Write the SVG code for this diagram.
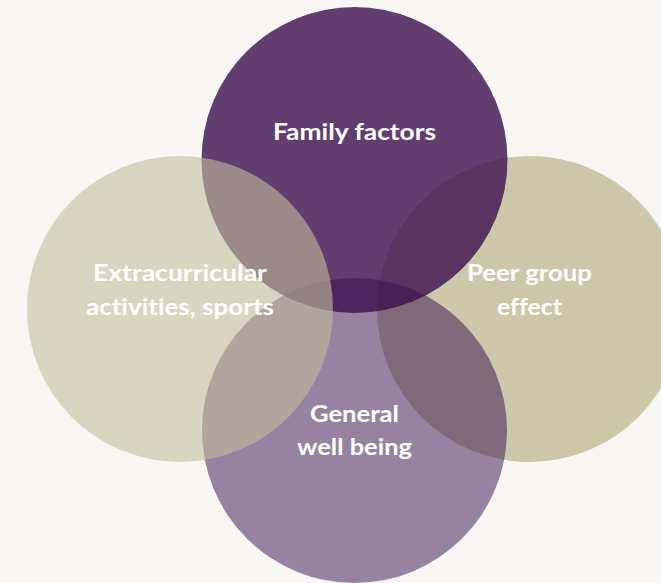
<svg xmlns="http://www.w3.org/2000/svg" width="661" height="583" viewBox="0 0 661 583">
<style>
.lbl{font-family:Lato,"Open Sans","Liberation Sans",sans-serif;font-weight:700;font-size:22.5px;fill:#ffffff;text-anchor:middle;font-variant-ligatures:none}
</style>
<rect width="661" height="583" fill="#f8f7f4"/>
<g id="peer">
<circle cx="530" cy="309" r="153" fill="#cdc8aa"/>
</g>
<g id="wellbeing">
<circle cx="354.5" cy="430.5" r="152.5" fill="#2a0045" fill-opacity="0.47"/>
</g>
<g id="family">
<circle cx="354.5" cy="160" r="153" fill="#3b0f4e" fill-opacity="0.8"/>
</g>
<g id="extracurricular">
<circle cx="180" cy="309" r="153" fill="#c3be9d" fill-opacity="0.6"/>
</g>
<g id="connectors"></g>
<g id="labels">
<text class="lbl" x="354.5" y="140" textLength="163" lengthAdjust="spacingAndGlyphs">Family factors</text>
<text class="lbl" x="180" y="281" textLength="174" lengthAdjust="spacingAndGlyphs">Extracurricular</text>
<text class="lbl" x="180" y="315" textLength="188" lengthAdjust="spacingAndGlyphs">activities, sports</text>
<text class="lbl" x="529.5" y="281" textLength="125" lengthAdjust="spacingAndGlyphs">Peer group</text>
<text class="lbl" x="529.5" y="315" textLength="65" lengthAdjust="spacingAndGlyphs">effect</text>
<text class="lbl" x="354.5" y="422" textLength="89" lengthAdjust="spacingAndGlyphs">General</text>
<text class="lbl" x="354.5" y="455" textLength="115" lengthAdjust="spacingAndGlyphs">well being</text>
</g>
</svg>
